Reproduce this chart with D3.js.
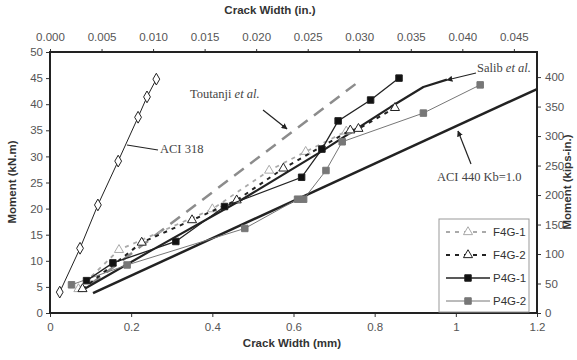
<!DOCTYPE html>
<html>
<head>
<meta charset="utf-8">
<script src="https://cdn.jsdelivr.net/npm/d3@7"></script>
<style>
  body { margin: 0; background: #fff; }
  text { font-family: "Liberation Sans", Arial, sans-serif; }
  .serif { font-family: "Liberation Serif", "Times New Roman", serif; }
</style>
</head>
<body>
<svg id="chart" width="577" height="360"></svg>
<script>
// crack width in mm, moment in kN.m
const aci318 = [[0.024, 4.0], [0.074, 12.4], [0.118, 20.7], [0.168, 29.1], [0.217, 37.5], [0.239, 41.4], [0.262, 44.8]];
const toutanji = [[0.1, 5.5], [0.757, 44.1]];
const salib = [[0.08, 4.4], [0.25, 12.0], [0.47, 21.6], [0.67, 31.0], [0.76, 35.5], [0.84, 39.5], [0.92, 43.3], [0.978, 44.7]];
const aci440 = [[0.106, 3.8], [1.2, 42.9]];
const f4g1 = [[0.07, 4.6], [0.17, 12.1], [0.40, 19.9], [0.54, 27.3], [0.63, 30.9], [0.73, 34.8]];
const f4g2 = [[0.08, 4.6], [0.226, 13.5], [0.35, 17.8], [0.46, 21.6], [0.575, 27.7], [0.74, 35.0], [0.76, 35.3], [0.85, 39.3]];
const p4g1 = [[0.09, 6.2], [0.155, 9.6], [0.31, 13.7], [0.43, 20.4], [0.62, 26.0], [0.67, 31.4], [0.71, 36.8], [0.79, 40.8], [0.86, 45.0]];
const p4g2 = [[0.053, 5.4], [0.19, 9.2], [0.48, 16.2], [0.61, 21.8], [0.625, 21.8], [0.68, 27.3], [0.72, 32.8], [0.92, 38.3], [1.06, 43.7]];

const mmTicks = [0, 0.2, 0.4, 0.6, 0.8, 1, 1.2];
const inTicks = [0, 0.005, 0.01, 0.015, 0.02, 0.025, 0.03, 0.035, 0.04, 0.045];
const knTicks = [0, 5, 10, 15, 20, 25, 30, 35, 40, 45, 50];
const kipTicks = [0, 50, 100, 150, 200, 250, 300, 350, 400];

const legendNames = ['F4G-1', 'F4G-2', 'P4G-1', 'P4G-2'];

const svg = d3.select('#chart');
const L = 50, R = 537, T = 52, B = 313;

const x = d3.scaleLinear().domain([0, 1.2]).range([L, R]);
const xIn = d3.scaleLinear().domain([0, 1.2 / 25.4]).range([L, R]);
const y = d3.scaleLinear().domain([0, 50]).range([B, T]);
const yKip = d3.scaleLinear().domain([0, 50 * 8.8507]).range([B, T]);

const line = d3.line().x(d => x(d[0])).y(d => y(d[1]));

svg.append('defs').append('clipPath').attr('id', 'clip')
  .append('rect').attr('x', L).attr('y', T).attr('width', R - L).attr('height', B - T);

// axes
const styleAxis = (g) => {
  g.select('.domain').remove();
  g.selectAll('line').attr('stroke', '#333');
  g.selectAll('text').attr('fill', '#555').style('font-size', '11.5px');
};
svg.append('g').attr('transform', `translate(0,${B})`)
  .call(d3.axisBottom(x).tickValues(mmTicks).tickFormat(d3.format('')).tickSize(4).tickPadding(6))
  .call(styleAxis);
svg.append('g').attr('transform', `translate(0,${T})`)
  .call(d3.axisTop(xIn).tickValues(inTicks).tickFormat(d3.format('.3f')).tickSize(3).tickPadding(8))
  .call(styleAxis);
svg.append('g').attr('transform', `translate(${L},0)`)
  .call(d3.axisLeft(y).tickValues(knTicks).tickSize(4).tickPadding(3))
  .call(styleAxis);
svg.append('g').attr('transform', `translate(${R},0)`)
  .call(d3.axisRight(yKip).tickValues(kipTicks).tickSize(4).tickPadding(4))
  .call(styleAxis);

// frame
svg.append('rect').attr('x', L).attr('y', T).attr('width', R - L).attr('height', B - T)
  .attr('fill', 'none').attr('stroke', '#222').attr('stroke-width', 2);

// titles
svg.append('text').attr('x', 270).attr('y', 14).attr('text-anchor', 'middle')
  .style('font-size', '11.5px').style('font-weight', 'bold').attr('fill', '#333').text('Crack Width (in.)');
svg.append('text').attr('x', 292).attr('y', 347).attr('text-anchor', 'middle')
  .style('font-size', '11.5px').style('font-weight', 'bold').attr('fill', '#333').text('Crack Width (mm)');
svg.append('text').attr('transform', 'translate(16,182) rotate(-90)').attr('text-anchor', 'middle')
  .style('font-size', '11.5px').style('font-weight', 'bold').attr('fill', '#333').text('Moment (kN.m)');
svg.append('text').attr('transform', 'translate(571,182) rotate(-90)').attr('text-anchor', 'middle')
  .style('font-size', '11.5px').style('font-weight', 'bold').attr('fill', '#333').text('Moment (kips-in.)');

const plot = svg.append('g').attr('clip-path', 'url(#clip)');

// reference lines
plot.append('path').attr('d', line(aci440)).attr('fill', 'none')
  .attr('stroke', '#222').attr('stroke-width', 2.5);
plot.append('path').attr('d', line(toutanji)).attr('fill', 'none')
  .attr('stroke', '#8c8c8c').attr('stroke-width', 2.5).attr('stroke-dasharray', '12,8');
plot.append('path').attr('d', line(salib)).attr('fill', 'none')
  .attr('stroke', '#222').attr('stroke-width', 2.2).attr('stroke-linejoin', 'round');
plot.append('path').attr('d', line(aci318)).attr('fill', 'none')
  .attr('stroke', '#222').attr('stroke-width', 1);

const series = [
  { data: f4g1, color: '#aaa', width: 1.8, dash: '4,5', marker: 'tri', fill: '#fff' },
  { data: f4g2, color: '#222', width: 2, dash: '4,5', marker: 'tri', fill: '#fff' },
  { data: p4g2, color: '#777', width: 1, dash: null, marker: 'sq', fill: '#777' },
  { data: p4g1, color: '#222', width: 1.3, dash: null, marker: 'sq', fill: '#111' }
];

const triSym = d3.symbol().type(d3.symbolTriangle).size(36);
const sqSym = d3.symbol().type(d3.symbolSquare).size(42);
const diaSym = d3.symbol().type(d3.symbolDiamond).size(40);

series.forEach(s => {
  plot.append('path').attr('d', line(s.data)).attr('fill', 'none')
    .attr('stroke', s.color).attr('stroke-width', s.width)
    .attr('stroke-dasharray', s.dash);
  plot.selectAll(null).data(s.data).enter().append('path')
    .attr('transform', d => `translate(${x(d[0])},${y(d[1])})`)
    .attr('d', s.marker === 'tri' ? triSym : sqSym)
    .attr('fill', s.fill).attr('stroke', s.color).attr('stroke-width', 1);
});

plot.selectAll('.dia').data(aci318).enter().append('path')
  .attr('transform', d => `translate(${x(d[0])},${y(d[1])})`)
  .attr('d', diaSym).attr('fill', '#fff').attr('stroke', '#222').attr('stroke-width', 1);

// annotations
const marker = svg.select('defs').append('marker').attr('id', 'arr')
  .attr('viewBox', '0 0 10 10').attr('refX', 9).attr('refY', 5)
  .attr('markerWidth', 5).attr('markerHeight', 5).attr('orient', 'auto');
marker.append('path').attr('d', 'M0,0L10,5L0,10z').attr('fill', '#222');

const pointer = (x1, y1, x2, y2, arrow) => {
  svg.append('line').attr('x1', x1).attr('y1', y1).attr('x2', x2).attr('y2', y2)
    .attr('stroke', '#222').attr('stroke-width', 1.2)
    .attr('marker-end', arrow ? 'url(#arr)' : null);
};
pointer(158, 150, 127, 145, false);
pointer(263, 110, 287, 129, true);
pointer(476, 73, 447, 80, true);
pointer(471, 164, 458, 131, true);

const note = (tx, ty, main, ital) => {
  const t = svg.append('text').attr('class', 'serif').attr('x', tx).attr('y', ty)
    .style('font-size', '12.5px').attr('fill', '#444');
  t.append('tspan').text(main);
  if (ital) t.append('tspan').style('font-style', 'italic').text(ital);
};
note(160, 153, 'ACI 318');
note(190, 98, 'Toutanji ', 'et al.');
note(477, 72, 'Salib ', 'et al.');
note(437, 181, 'ACI 440 Kb=1.0');

// legend
const lg = svg.append('g');
lg.append('rect').attr('x', 439).attr('y', 219).attr('width', 90).attr('height', 93)
  .attr('fill', '#fff').attr('stroke', '#999').attr('stroke-width', 1);
const rowY = [232, 255, 278, 301];
const legendStyles = [series[0], series[1], series[3], series[2]];
legendNames.forEach((name, i) => {
  const s = legendStyles[i];
  lg.append('line').attr('x1', 446).attr('x2', 490).attr('y1', rowY[i]).attr('y2', rowY[i])
    .attr('stroke', s.color).attr('stroke-width', s.width).attr('stroke-dasharray', s.dash);
  lg.append('path').attr('transform', `translate(468,${rowY[i]})`)
    .attr('d', s.marker === 'tri' ? triSym : sqSym)
    .attr('fill', s.fill).attr('stroke', s.color).attr('stroke-width', 1);
  lg.append('text').attr('x', 493).attr('y', rowY[i] + 4).style('font-size', '11.5px')
    .attr('fill', '#333').text(name);
});
</script>
</body>
</html>
